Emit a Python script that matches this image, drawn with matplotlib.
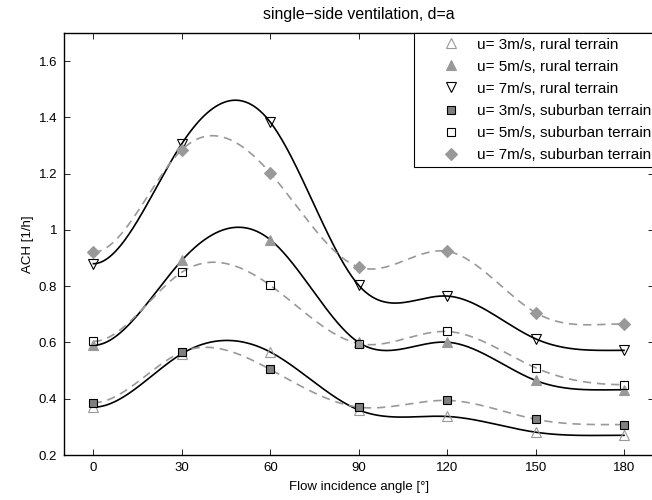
import numpy as np
import matplotlib
matplotlib.use("Agg")
import matplotlib.pyplot as plt

plt.rcParams["font.family"] = ["Liberation Sans", "DejaVu Sans"]
plt.rcParams["font.size"] = 9.5

# flow incidence angles [deg]
angles = [0, 30, 60, 90, 120, 150, 180]

# ACH [1/h]
rural_u3 = [0.37, 0.56, 0.566, 0.36, 0.337, 0.281, 0.27]
rural_u5 = [0.59, 0.892, 0.965, 0.60, 0.601, 0.465, 0.432]
rural_u7 = [0.88, 1.307, 1.383, 0.803, 0.765, 0.613, 0.572]
suburban_u3 = [0.386, 0.566, 0.504, 0.37, 0.394, 0.327, 0.308]
suburban_u5 = [0.604, 0.85, 0.803, 0.596, 0.639, 0.51, 0.45]
suburban_u7 = [0.921, 1.285, 1.202, 0.868, 0.924, 0.706, 0.666]

labels = ["u= 3m/s, rural terrain", "u= 5m/s, rural terrain",
          "u= 7m/s, rural terrain", "u= 3m/s, suburban terrain",
          "u= 5m/s, suburban terrain", "u= 7m/s, suburban terrain"]


def clamped_spline(x, y, npts=361):
    """Cubic spline through the points with zero slope at both ends."""
    x = np.asarray(x, dtype=float)
    y = np.asarray(y, dtype=float)
    n = len(x)
    h = np.diff(x)
    A = np.zeros((n, n))
    b = np.zeros(n)
    A[0, 0], A[0, 1] = 2 * h[0], h[0]
    b[0] = 6 * ((y[1] - y[0]) / h[0])
    for i in range(1, n - 1):
        A[i, i - 1] = h[i - 1]
        A[i, i] = 2 * (h[i - 1] + h[i])
        A[i, i + 1] = h[i]
        b[i] = 6 * ((y[i + 1] - y[i]) / h[i] - (y[i] - y[i - 1]) / h[i - 1])
    A[-1, -2], A[-1, -1] = h[-1], 2 * h[-1]
    b[-1] = 6 * (0 - (y[-1] - y[-2]) / h[-1])
    M = np.linalg.solve(A, b)

    xs = np.linspace(x[0], x[-1], npts)
    idx = np.clip(np.searchsorted(x, xs) - 1, 0, n - 2)
    x0, x1 = x[idx], x[idx + 1]
    hh = x1 - x0
    ys = (M[idx] * (x1 - xs) ** 3 / (6 * hh) + M[idx + 1] * (xs - x0) ** 3 / (6 * hh)
          + (y[idx] / hh - M[idx] * hh / 6) * (x1 - xs)
          + (y[idx + 1] / hh - M[idx + 1] * hh / 6) * (xs - x0))
    return xs, ys


fig = plt.figure(figsize=(6.52, 5.0), dpi=100)
ax = fig.add_axes([64 / 652, 45 / 500, 589.5 / 652, 422 / 500])

# fitted curves: solid black for rural, dashed gray for suburban
for ys in (rural_u3, rural_u5, rural_u7):
    cx, cy = clamped_spline(angles, ys)
    ax.plot(cx, cy, color="black", lw=1.2, zorder=2)
for ys in (suburban_u3, suburban_u5, suburban_u7):
    cx, cy = clamped_spline(angles, ys)
    ax.plot(cx, cy, color="0.6", lw=1.2, dashes=[5, 3.5], zorder=2)

gray = "0.6"
ax.plot(angles, rural_u3, ls="none", marker="^", ms=7, mfc="none", mec=gray,
        mew=0.8, label=labels[0], zorder=3)
ax.plot(angles, rural_u5, ls="none", marker="^", ms=7, mfc=gray, mec=gray,
        mew=0.8, label=labels[1], zorder=3)
ax.plot(angles, rural_u7, ls="none", marker="v", ms=7, mfc="none", mec="black",
        mew=0.8, label=labels[2], zorder=3)
ax.plot(angles, suburban_u3, ls="none", marker="s", ms=6, mfc="0.5", mec="black",
        mew=0.8, label=labels[3], zorder=3)
ax.plot(angles, suburban_u5, ls="none", marker="s", ms=6, mfc="none", mec="black",
        mew=0.8, label=labels[4], zorder=3)
ax.plot(angles, suburban_u7, ls="none", marker="D", ms=6, mfc=gray, mec=gray,
        mew=0.8, label=labels[5], zorder=3)

ax.set_xlim(-10, 190)
ax.set_ylim(0.2, 1.7)
ax.set_xticks(angles)
ax.set_yticks([0.2, 0.4, 0.6, 0.8, 1.0, 1.2, 1.4, 1.6])
ax.set_yticklabels(["0.2", "0.4", "0.6", "0.8", "1", "1.2", "1.4", "1.6"])
ax.tick_params(direction="in", top=True, right=True, length=4, width=0.6, pad=5)
for sp in ax.spines.values():
    sp.set_linewidth(1.0)
# the right border falls just outside the picture
ax.spines["right"].set_visible(False)

ax.set_xlabel("Flow incidence angle [°]", labelpad=5)
ax.set_ylabel("ACH [1/h]", labelpad=3)
ax.set_title("single\u2212side ventilation, d=a", pad=10)

leg = ax.legend(loc="upper right", bbox_to_anchor=(1.004, 1.0), frameon=True,
                fancybox=False, edgecolor="black", framealpha=1, borderaxespad=0,
                labelspacing=0.53, handletextpad=-0.37, borderpad=0.3,
                handlelength=4.2, fontsize=11)
leg.get_frame().set_linewidth(0.8)

fig.savefig("out.png", dpi=100)
